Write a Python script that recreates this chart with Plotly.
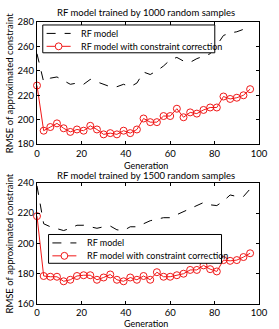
import plotly.graph_objects as go

gen = [0, 3, 6, 9, 12, 15, 18, 21, 24, 27, 30, 33, 36, 39, 42, 45, 48, 51, 54, 57, 60, 63, 66, 69, 72, 75, 78, 81, 84, 87, 90, 93, 96]

rf_1000 = [254, 231, 234, 235, 232, 229, 230, 229, 233, 231, 229, 227, 227, 229, 227, 230, 239, 237, 240, 244, 249, 251, 248, 247, 250, 252, 254, 261, 269, 271, 272, 274, 276]
rfc_1000 = [228, 191, 194, 197, 193, 190, 192, 191, 195, 192, 188, 189, 188, 191, 189, 192, 201, 198, 198, 203, 203, 209, 202, 206, 205, 208, 210, 210, 219, 217, 218, 220, 225]

rf_1500 = [238, 213, 211, 210, 208.5, 210, 212, 212, 211, 210, 211, 211.5, 209, 208.5, 211, 211, 213, 215, 216, 217, 217, 219, 221, 223, 225, 227, 225.5, 225, 228, 232, 231, 231, 236]
rfc_1500 = [218, 178.5, 178, 178, 175, 176, 178.5, 179, 179, 176, 177.5, 179.5, 176, 175, 177.5, 176, 178.5, 176, 181, 178, 178, 179, 180, 182.5, 182.5, 185.5, 183, 181.5, 189, 188.5, 189, 191, 193.5]

titles = ["RF model trained by 1000 random samples", "RF model trained by 1500 random samples"]
names = ["RF model", "RF model with constraint correction"]
ylabel = "RMSE of approximated constraint"
xlabel = "Generation"

FONT = "Lato"
red = "#f01818"
fig = go.Figure()

for xa, ya, a, b in [("x", "y", rf_1000, rfc_1000), ("x2", "y2", rf_1500, rfc_1500)]:
    fig.add_trace(go.Scatter(x=gen, y=a, mode="lines", name=names[0],
                             line=dict(color="black", dash="dash", width=1),
                             xaxis=xa, yaxis=ya, showlegend=False))
    fig.add_trace(go.Scatter(x=gen, y=b, mode="lines+markers", name=names[1],
                             line=dict(color=red, width=1), cliponaxis=False,
                             marker=dict(symbol="circle-open", size=7, color=red, line=dict(width=1)),
                             xaxis=xa, yaxis=ya, showlegend=False))

axcommon = dict(showline=True, linecolor="black", linewidth=1, mirror="allticks",
                ticks="inside", ticklen=3, tickcolor="black", showgrid=False,
                zeroline=False, tickfont=dict(family=FONT, size=9.5, color="black"))

L, R, T, B = 37, 268, 22, 306
W, H = R - L, B - T
def px(xp):
    return (xp - L) / W
def py(yp):
    return (B - yp) / H

fig.update_layout(
    width=279, height=329,
    margin=dict(l=L, r=279 - R, t=T, b=329 - B),
    paper_bgcolor="white", plot_bgcolor="white",
    font=dict(family=FONT, size=9.5, color="black"),
    xaxis=dict(domain=[0, 1], range=[0, 100], dtick=20, anchor="y", **axcommon),
    yaxis=dict(domain=[py(145), 1.0], range=[180, 280], dtick=20, anchor="x", **axcommon),
    xaxis2=dict(domain=[0, 1], range=[0, 100], dtick=20, anchor="y2", **axcommon),
    yaxis2=dict(domain=[0.0, py(184)], range=[160, 240], dtick=20, anchor="x2", **axcommon),
    showlegend=False,
)

ann = []
shapes = []
for i, (ty, gy, yc) in enumerate([(12, 158.5, 83.5), (177, 318.5, 245)]):
    ann.append(dict(text=titles[i], x=0.49, xref="paper", y=py(ty),
                    yref="paper", showarrow=False, xanchor="center", yanchor="middle",
                    font=dict(family=FONT, size=9.5)))
    ann.append(dict(text=xlabel, x=0.49, xref="paper", y=py(gy), yref="paper",
                    showarrow=False, xanchor="center", yanchor="top",
                    font=dict(family=FONT, size=9)))
    ann.append(dict(text=ylabel, x=px(8), xref="paper", y=py(yc), yref="paper",
                    showarrow=False, textangle=-90, xanchor="center", yanchor="middle",
                    font=dict(family=FONT, size=9.5)))

# legend boxes (left, top, right, bottom, row1 y, row2 y, sample x0, sample x1, text x)
legends = [(43, 25, 222, 53, 33.5, 46.5, 47, 72, 81),
           (49, 236, 229, 265, 244.5, 257.5, 53, 78, 87)]
for (x0, y0, x1, y1, r1, r2, s0, s1, tx) in legends:
    shapes.append(dict(type="rect", xref="paper", yref="paper", x0=px(x0), x1=px(x1),
                       y0=py(y1), y1=py(y0), line=dict(color="black", width=1),
                       fillcolor="white", layer="above"))
    shapes.append(dict(type="line", xref="paper", yref="paper", x0=px(s0), x1=px(s1),
                       y0=py(r1), y1=py(r1), line=dict(color="black", width=1, dash="dash")))
    shapes.append(dict(type="line", xref="paper", yref="paper", x0=px(s0), x1=px(s1),
                       y0=py(r2), y1=py(r2), line=dict(color=red, width=1)))
    cx = (s0 + s1) / 2
    shapes.append(dict(type="circle", xref="paper", yref="paper", x0=px(cx - 3.5), x1=px(cx + 3.5),
                       y0=py(r2 + 3.5), y1=py(r2 - 3.5), line=dict(color=red, width=1),
                       fillcolor="white"))
    ann.append(dict(text=names[0], x=px(tx), y=py(r1), xref="paper", yref="paper",
                    showarrow=False, xanchor="left", yanchor="middle",
                    font=dict(family=FONT, size=9)))
    ann.append(dict(text=names[1], x=px(tx), y=py(r2), xref="paper", yref="paper",
                    showarrow=False, xanchor="left", yanchor="middle",
                    font=dict(family=FONT, size=9)))

fig.update_layout(annotations=ann, shapes=shapes)

fig.write_html("out.html")
